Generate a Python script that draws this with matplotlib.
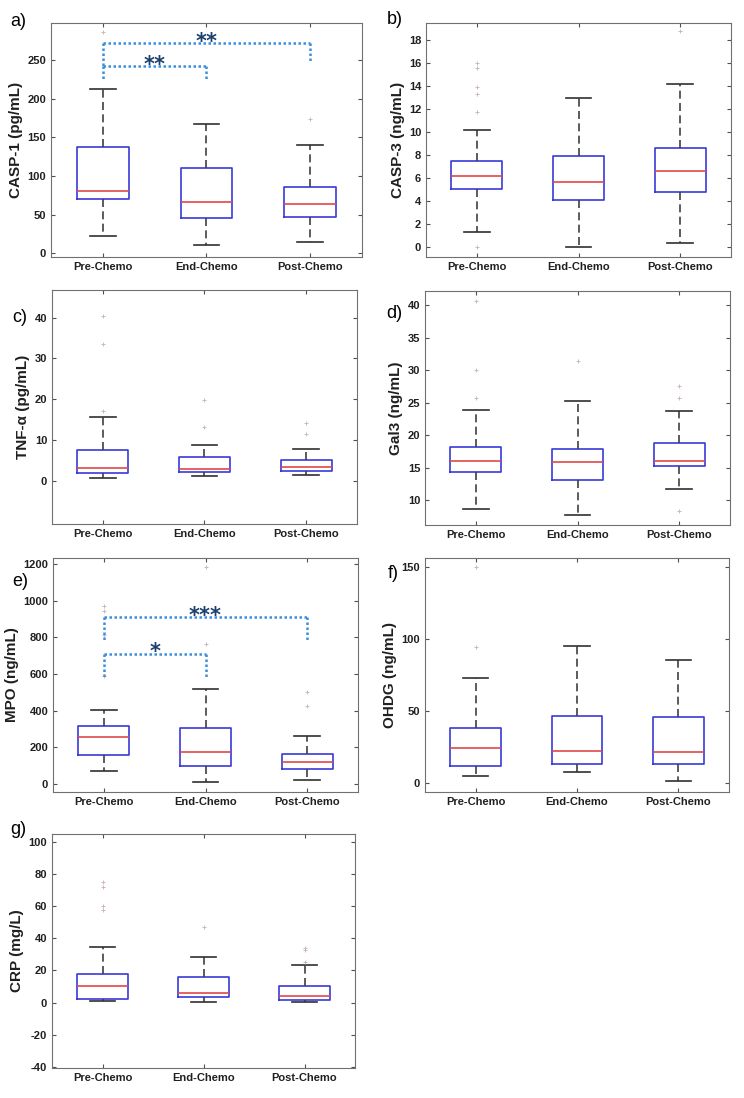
import matplotlib.pyplot as plt

plt.rcParams['font.family'] = ['Liberation Sans', 'DejaVu Sans']
plt.rcParams['axes.unicode_minus'] = False

groups = ['Pre-Chemo', 'End-Chemo', 'Post-Chemo']

# per group: lower whisker, q1, median, q3, upper whisker
casp1 = [[22, 70, 80, 138, 212], [10, 46, 66, 110, 167], [15, 47, 63, 86, 140]]
casp1_out = [[286], [], [174]]
casp3 = [[1.3, 5.0, 6.2, 7.5, 10.2], [0.0, 4.1, 5.65, 7.9, 13.0], [0.35, 4.8, 6.6, 8.6, 14.2]]
casp3_out = [[0.0, 11.7, 13.3, 13.9, 15.6, 16.0], [], [18.8]]
tnf = [[0.6, 1.9, 3.1, 7.6, 15.6], [1.2, 2.1, 3.0, 5.8, 8.8], [1.5, 2.3, 3.5, 5.2, 7.8]]
tnf_out = [[17.2, 33.5, 40.4], [13.1, 19.9], [11.5, 14.1]]
gal3 = [[8.6, 14.3, 16.0, 18.2, 23.9], [7.8, 13.1, 15.85, 17.95, 25.3], [11.75, 15.2, 16.05, 18.8, 23.7]]
gal3_out = [[25.7, 30.0, 40.7], [31.5], [8.4, 25.8, 27.6]]
mpo = [[69, 155, 255, 317, 404], [11, 95, 171, 304, 519], [18, 82, 117, 162, 262]]
mpo_out = [[590, 812, 945, 971], [761, 1184], [423, 501]]
ohdg = [[4.9, 12.2, 24.3, 38.1, 73.3], [7.6, 13.2, 22.4, 46.7, 95.2], [1.4, 13.2, 21.5, 46.2, 86.0]]
ohdg_out = [[94.5, 150.0], [], []]
crp = [[0.8, 2.5, 10.4, 17.9, 34.3], [0.6, 3.5, 6.0, 16.0, 28.5], [0.2, 1.5, 4.0, 10.0, 23.3]]
crp_out = [[57.6, 60.3, 72.1, 75.3], [46.8], [25.0, 32.6, 33.7]]

panels = [
    ('a)', 'CASP-1 (pg/mL)', casp1, casp1_out),
    ('b)', 'CASP-3 (ng/mL)', casp3, casp3_out),
    ('c)', 'TNF-\u03b1 (pg/mL)', tnf, tnf_out),
    ('d)', 'Gal3 (ng/mL)', gal3, gal3_out),
    ('e)', 'MPO (ng/mL)', mpo, mpo_out),
    ('f)', 'OHDG (ng/mL)', ohdg, ohdg_out),
    ('g)', 'CRP (mg/L)', crp, crp_out),
]

W, H = 744, 1098
# axes boxes in pixels: left, top, right, bottom
boxes = [(51, 23, 362, 257), (426, 23, 731, 257),
         (52, 290, 357, 524), (425, 291, 730, 525),
         (53, 558, 358, 792), (425, 558, 729, 792),
         (52, 834, 355, 1068)]
ylims = [(-5, 298), (-0.9, 19.5), (-10.6, 46.8), (6.2, 42.2),
         (-45, 1233), (-6, 156.5), (-40.8, 105)]
yticks = [range(0, 251, 50), range(0, 19, 2), range(0, 41, 10), range(10, 41, 5),
          range(0, 1201, 200), range(0, 151, 50), range(-40, 101, 20)]
# panel label positions (px)
labpos = [(10, 22), (387, 20), (12, 317), (386, 313), (12, 581), (388, 573), (10, 830)]

# significance brackets: (x1, x2, y, left leg end, right leg end, stars)
sig = {
    0: [(1, 2, 242, 224, 224, '**'), (1, 3, 272, 242, 248, '**')],
    4: [(1, 2, 710, 585, 585, '*'), (1, 3, 911, 776, 776, '***')],
}

fig = plt.figure(figsize=(W / 100, H / 100), dpi=100)

for i, (lab, ylab, st, out) in enumerate(panels):
    l, t, r, b = boxes[i]
    ax = fig.add_axes([l / W, 1 - b / H, (r - l) / W, (b - t) / H])
    stats = []
    for g, s, o in zip(groups, st, out):
        stats.append(dict(label=g, whislo=s[0], q1=s[1], med=s[2], q3=s[3], whishi=s[4], fliers=o))
    ax.bxp(stats, widths=0.5, capwidths=0.25,
           boxprops=dict(color='#3a3ad8', lw=1.2),
           medianprops=dict(color='#e04848', lw=1.2),
           whiskerprops=dict(color='#404040', lw=1.2, linestyle=(0, (4.8, 2.6))),
           capprops=dict(color='#303030', lw=1.2),
           flierprops=dict(marker='+', markersize=2.2, markeredgecolor='#ccb8b8', markeredgewidth=0.7))
    ax.set_xlim(0.5, 3.5)
    ax.set_ylim(*ylims[i])
    ax.set_yticks(list(yticks[i]))
    ax.tick_params(direction='in', top=True, right=True, length=3, color='#505050',
                   labelsize=8, labelcolor='#202020')
    for tl in ax.get_xticklabels() + ax.get_yticklabels():
        tl.set_fontweight('bold')
    for sp in ax.spines.values():
        sp.set_color('#707070')
    ax.set_ylabel(ylab, fontsize=11, fontweight='bold', color='#202020', labelpad=3)
    fig.text(labpos[i][0] / W, 1 - labpos[i][1] / H, lab, fontsize=13, va='center', ha='left')

    for x1, x2, y, yl, yr, stars in sig.get(i, []):
        kw = dict(color='#3a8ee0', lw=1.8, linestyle=(0, (1, 1)))
        ax.plot([x1, x2], [y, y], **kw)
        ax.plot([x1, x1], [y, yl], **kw)
        ax.plot([x2, x2], [y, yr], **kw)
        ax.annotate(stars, ((x1 + x2) / 2, y), xytext=(0, 1), textcoords='offset points',
                    ha='center', va='center', fontsize=15, color='#1c3f6e',
                    family='DejaVu Sans', fontweight='bold')

fig.savefig('out.png', dpi=100)
